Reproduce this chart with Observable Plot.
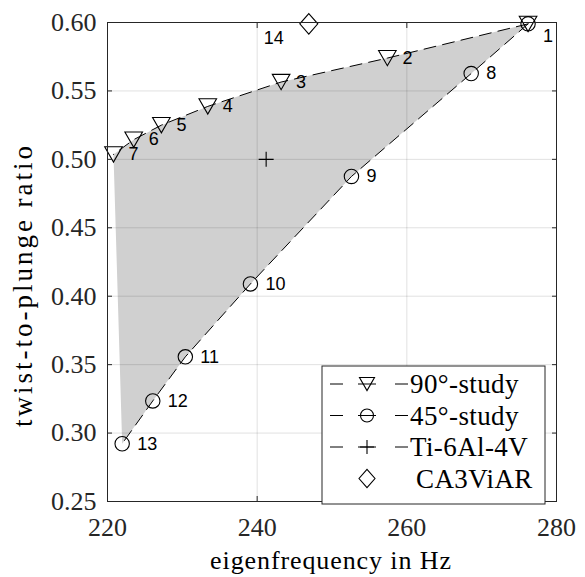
<!DOCTYPE html>
<html><head><meta charset="utf-8">
<script src="https://cdn.jsdelivr.net/npm/d3@7"></script>
<script src="https://cdn.jsdelivr.net/npm/@observablehq/plot@0.6"></script>
<style>body{margin:0;background:#fff}#chart{width:585px;height:577px}</style>
</head><body><div id="chart"></div>
<script>
// ---- data ----
const study90Freq  = [276.2, 257.4, 243.2, 233.4, 227.2, 223.5, 220.8];
const study90Ratio = [0.599, 0.574, 0.5565, 0.5387, 0.525, 0.5144, 0.5036];
const study90Ids   = ["1", "2", "3", "4", "5", "6", "7"];
const study45Freq  = [276.2, 268.6, 252.6, 239.1, 230.4, 226.05, 221.96];
const study45Ratio = [0.599, 0.5627, 0.4875, 0.409, 0.3557, 0.3235, 0.2922];
const study45Ids   = ["1", "8", "9", "10", "11", "12", "13"];
const tiFreq = [241.2], tiRatio = [0.500];
const caFreq = [246.9], caRatio = [0.599], caIds = ["14"];
const xTicks = [220, 240, 260, 280];
const yTicks = [0.25, 0.30, 0.35, 0.40, 0.45, 0.50, 0.55, 0.60];
const legendLabels = ["90°-study", "45°-study", "Ti-6Al-4V", "CA3ViAR"];
const xTitle = "eigenfrequency in Hz";
const yTitle = "twist-to-plunge ratio";

const build = (xs, ys, ids) => xs.map((x, i) => ({x, y: ys[i], id: ids ? ids[i] : ""}));
const s90 = build(study90Freq, study90Ratio, study90Ids);
const s45 = build(study45Freq, study45Ratio, study45Ids);
const ti = build(tiFreq, tiRatio);
const ca = build(caFreq, caRatio, caIds);
const shade = [...s90, ...s45.slice().reverse()];
const labelled = [...s90.slice(1), ...s45.slice(1)];

// ---- custom marker symbols ----
const triDown = {draw(c, size) {const r = Math.sqrt(size / Math.PI), h = r * 0.87;
  c.moveTo(-r, -h); c.lineTo(r, -h); c.lineTo(0, h); c.closePath();}};
const plusSym = {draw(c, size) {const r = Math.sqrt(size / Math.PI);
  c.moveTo(-r, 0); c.lineTo(r, 0); c.moveTo(0, -r); c.lineTo(0, r);}};
const diamondTall = {draw(c, size) {const r = Math.sqrt(size / Math.PI), h = r * 1.15;
  c.moveTo(0, -h); c.lineTo(r, 0); c.lineTo(0, h); c.lineTo(-r, 0); c.closePath();}};

const ink = "#262626";
const serif = "'Liberation Serif', 'Times New Roman', serif";
const sans = "'Liberation Sans', Arial, sans-serif";
const dash = "12,7";

const chart = Plot.plot({
  width: 585, height: 577,
  marginLeft: 107, marginRight: 29, marginTop: 22, marginBottom: 76,
  style: {fontFamily: serif, fontSize: "26px", color: ink, background: "white", overflow: "visible"},
  x: {domain: [220, 280]},
  y: {domain: [0.25, 0.60]},
  marks: [
    Plot.line(shade, {x: "x", y: "y", fill: "#d0d0d0", stroke: "none"}),
    Plot.gridX(xTicks, {stroke: "#000", strokeOpacity: 0.12}),
    Plot.gridY(yTicks, {stroke: "#000", strokeOpacity: 0.12}),
    Plot.line(s90, {x: "x", y: "y", stroke: "#000", strokeWidth: 1, strokeDasharray: dash}),
    Plot.line(s45, {x: "x", y: "y", stroke: "#000", strokeWidth: 1, strokeDasharray: dash}),
    Plot.dot(s90, {x: "x", y: "y", symbol: triDown, r: 8.8, stroke: "#000", fill: "none", strokeWidth: 1.1}),
    Plot.dot(s45, {x: "x", y: "y", symbol: "circle", r: 7.2, stroke: "#000", fill: "none", strokeWidth: 1.1}),
    Plot.dot(ti, {x: "x", y: "y", symbol: plusSym, r: 7.5, stroke: "#000", fill: "none", strokeWidth: 1.1}),
    Plot.dot(ca, {x: "x", y: "y", symbol: diamondTall, r: 9, stroke: "#000", fill: "none", strokeWidth: 1.1}),
    Plot.text(labelled, {x: "x", y: "y", text: "id", dx: 15, textAnchor: "start", fontFamily: sans, fontSize: 18, fill: "#000"}),
    Plot.text([s90[0]], {x: "x", y: "y", text: "id", dx: 15, dy: 12, textAnchor: "start", fontFamily: sans, fontSize: 18, fill: "#000"}),
    Plot.text(ca, {x: "x", y: "y", text: "id", dx: -45, dy: 14, textAnchor: "start", fontFamily: sans, fontSize: 18, fill: "#000"}),
    Plot.frame({stroke: ink, strokeWidth: 1}),
    Plot.axisX(xTicks, {anchor: "bottom", tickSize: -5, tickPadding: 21, label: null, fontFamily: serif, fontSize: 26}),
    Plot.axisX(xTicks, {anchor: "top", tickSize: -5, tickFormat: () => "", label: null}),
    Plot.axisY(yTicks, {anchor: "left", tickSize: -5, tickPadding: 16, tickFormat: d3.format(".2f"), label: null, fontFamily: serif, fontSize: 26}),
    Plot.axisY(yTicks, {anchor: "right", tickSize: -5, tickFormat: () => "", label: null})
  ]
});
document.getElementById("chart").appendChild(chart);
const svg = d3.select(chart);

// ---- axis titles ----
svg.append("text").attr("transform", "translate(331,569)")
  .attr("text-anchor", "middle").attr("fill", "#000").attr("font-family", serif)
  .attr("font-size", 26).attr("letter-spacing", "0.9px").text(xTitle);
svg.append("text").attr("transform", "translate(32,285) rotate(-90)")
  .attr("text-anchor", "middle").attr("fill", "#000").attr("font-family", serif)
  .attr("font-size", 27).attr("letter-spacing", "3px").text(yTitle);

// ---- legend (inside the axes, lower right) ----
const lg = svg.append("g").attr("transform", "translate(322,366)");
lg.append("rect").attr("width", 223).attr("height", 138).attr("fill", "white").attr("stroke", ink).attr("stroke-width", 1);
const legendSymbols = [triDown, d3.symbolCircle, plusSym, diamondTall];
const legendR = [7.5, 6.5, 7, 8];
const legendLine = [true, true, true, false];
legendLabels.forEach((lab, i) => {
  const cy = 18 + i * 31.5;
  const row = lg.append("g").attr("transform", `translate(0,${cy})`);
  if (legendLine[i]) {
    [[8, 21], [36, 54], [73, 86]].forEach(([a, b]) =>
      row.append("line").attr("x1", a).attr("x2", b).attr("stroke", "#000").attr("stroke-width", 1));
  }
  row.append("path").attr("transform", "translate(45,0)")
    .attr("d", d3.symbol(legendSymbols[i], legendR[i] * legendR[i] * Math.PI)())
    .attr("fill", "none").attr("stroke", "#000").attr("stroke-width", 1.1);
  row.append("text").attr("x", i === 3 ? 94 : 88).attr("dy", "0.35em").attr("fill", "#000")
    .attr("text-anchor", "start").attr("letter-spacing", "0.4px")
    .attr("font-family", serif).attr("font-size", 27).text(lab);
});
</script></body></html>
